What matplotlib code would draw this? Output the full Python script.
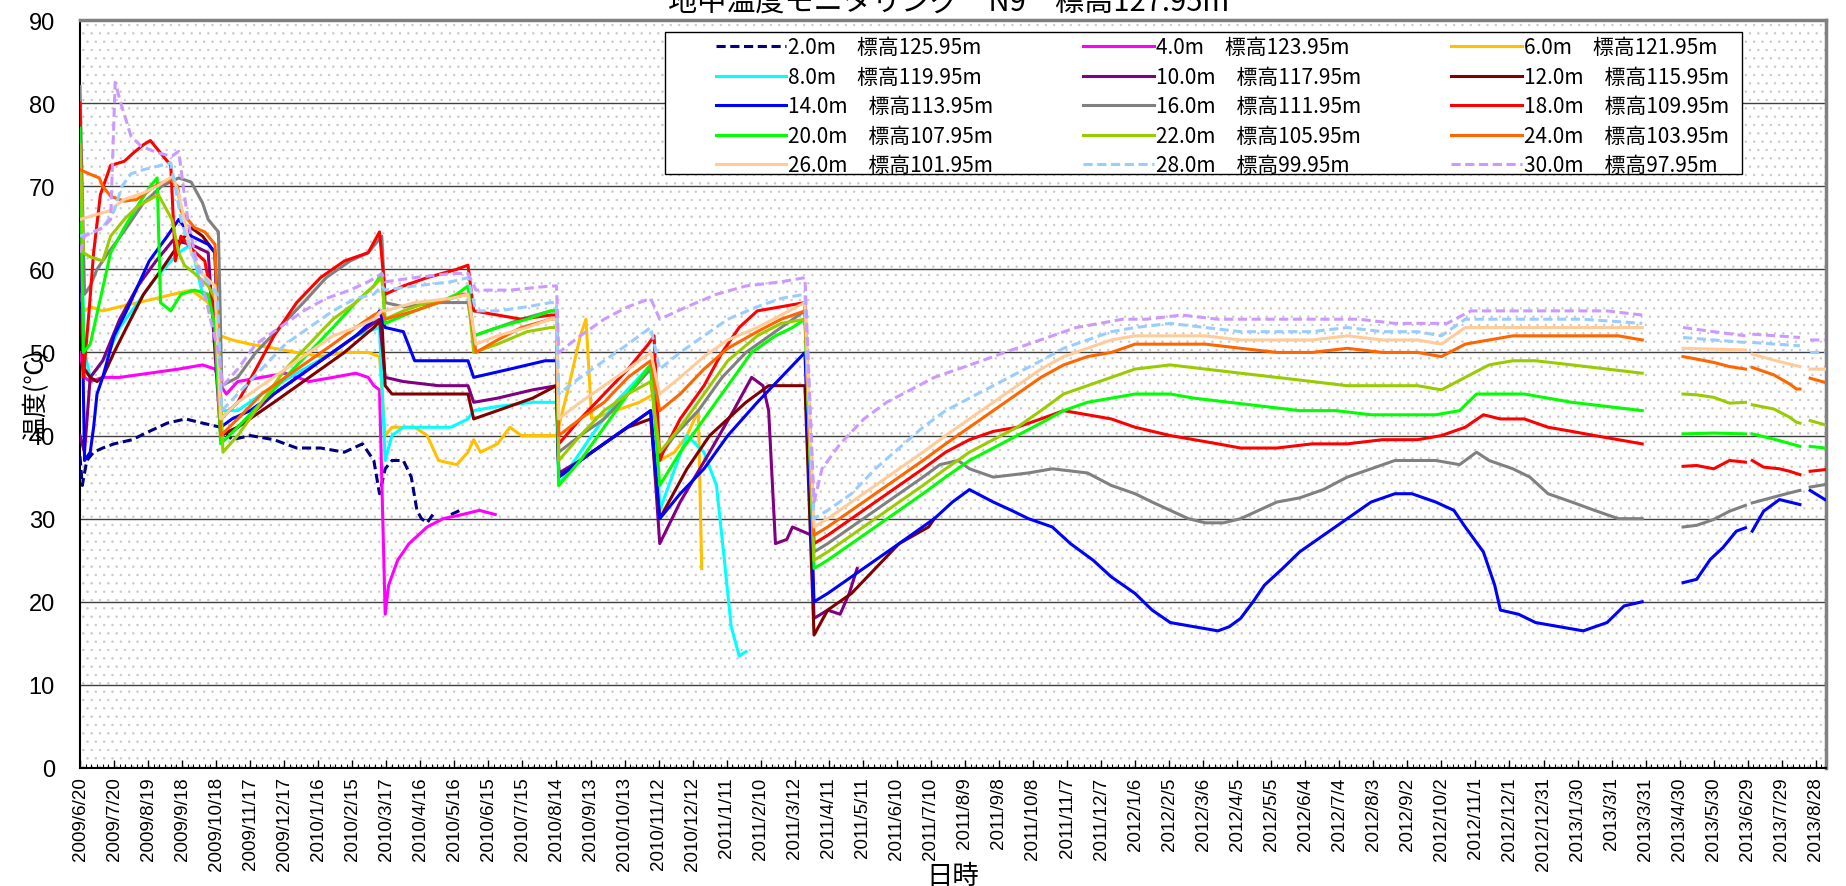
import numpy as np
import pandas as pd
import matplotlib
matplotlib.use('Agg')
import matplotlib.pyplot as plt
import matplotlib.dates as mdates
from matplotlib.patches import Rectangle
from matplotlib.ticker import FixedLocator, FuncFormatter

plt.rcParams['font.family'] = ['Liberation Sans', 'Noto Sans CJK JP', 'DejaVu Sans']
plt.rcParams['hatch.linewidth'] = 0.5

nan = np.nan
start = pd.Timestamp('2009-06-20')

# 経過日数 (2009/6/20 = 0) と温度 [℃]
d_2 = [0, 2, 6, 12, 20, 30, 46, 61, 77, 93, 108, 124, 134, 150, 171, 191, 212, 233, 249, 259, 264, 269, 275, 285, 292, 297, 301, 306, 311, 318, 327, 335]
v_2 = [37.5, 34, 37, 38, 38.5, 39, 39.5, 40.5, 41.5, 42, 41.5, 41, 39.5, 40, 39.5, 38.5, 38.5, 38, 39, 37, 33, 36, 37, 37, 35, 31, 30, 29.5, 30.5, nan, 30.5, 31]

d_4 = [0, 4, 9, 20, 35, 61, 87, 108, 119, 124, 129, 139, 160, 181, 202, 223, 243, 254, 259, 264, 269, 272, 280, 290, 306, 320, 337, 352, 366]
v_4 = [50, 47, 46.5, 47, 47, 47.5, 48, 48.5, 48, 46, 45, 46.5, 47, 47.5, 46.5, 47, 47.5, 47, 46, 45.5, 18.5, 22, 25, 27, 29, 30, 30.5, 31, 30.5]

d_6 = [0, 4, 9, 20, 35, 51, 67, 82, 98, 113, 124, 134, 150, 171, 191, 212, 233, 254, 264, 269, 275, 295, 306, 316, 332, 342, 347, 353, 368, 379, 389, 410, 420, 431, 441, 446, 451, 472, 493, 506, 511, 524, 535, 545, 548]
v_6 = [57, 55, 55.5, 55, 55.5, 56, 56.5, 57, 57.5, 56, 52, 51.5, 51, 50.5, 50, 49.5, 50, 50, 49.5, 40, 41, 41, 40, 37, 36.5, 38, 39.5, 38, 39, 41, 40, 40, 40, 46, 52, 54, 42, 43, 44, 45, 37, 38, 40, 43, 24]

d_8 = [0, 4, 9, 15, 25, 35, 51, 67, 87, 98, 108, 119, 124, 139, 160, 191, 223, 243, 264, 269, 275, 285, 306, 327, 342, 347, 368, 399, 420, 422, 431, 451, 472, 493, 506, 511, 535, 550, 561, 568, 574, 581, 587]
v_8 = [70, 50, 47, 48, 50, 53, 56, 59, 62, 63, 57, 56, 43, 43, 45, 47.5, 50, 52, 53, 37, 40, 41, 41, 41, 42, 43, 43.5, 44, 44, 34, 36, 40, 44, 47, 49, 31, 40, 38, 34, 25, 17, 13.5, 14]

d_10 = [0, 4, 9, 20, 35, 51, 67, 82, 98, 113, 124, 139, 171, 202, 233, 264, 269, 285, 316, 342, 347, 368, 399, 420, 422, 441, 472, 503, 511, 529, 555, 576, 592, 602, 607, 613, 623, 628, 645, 647, 659, 670, 678, 685]
v_10 = [40, 38, 47, 49, 54, 58, 61, 63.5, 63, 62, 40, 41, 45, 48, 51, 54, 47, 46.5, 46, 46, 44, 44.5, 45.5, 46, 35.5, 37, 40, 43, 27, 32, 38, 43, 47, 46, 43, 27, 27.5, 29, 28, 18, 19, 18.5, 21, 24]

d_12 = [0, 4, 9, 15, 20, 30, 41, 56, 72, 87, 98, 108, 119, 124, 139, 171, 202, 233, 259, 266, 269, 275, 306, 342, 347, 368, 399, 420, 422, 451, 483, 503, 511, 535, 555, 587, 607, 639, 647, 659, 680, 701, 722, 748, 753]
v_12 = [55, 48, 47, 46.5, 47, 50, 53, 57, 60, 63, 65, 64, 62, 40, 41, 44, 47, 50, 53, 54, 46, 45, 45, 45, 42, 43, 44.5, 46, 35, 38, 41, 42, 30, 36, 40, 44, 46, 46, 16, 19, 21, 24, 27, 29, 30]

d_14 = [0, 4, 9, 12, 15, 20, 30, 41, 51, 61, 77, 87, 98, 113, 119, 124, 134, 150, 181, 212, 243, 259, 264, 269, 285, 295, 316, 342, 347, 379, 410, 420, 422, 441, 472, 503, 511, 529, 550, 571, 597, 618, 639, 647, 659, 680, 701, 722, 753, 769, 784, 805, 821, 836, 857, 873, 893, 909, 930, 945, 961, 982, 1003, 1013, 1023, 1034, 1044, 1060, 1075, 1096, 1117, 1138, 1159, 1174, 1195, 1211, 1221, 1237, 1247, 1252, 1268, 1283, 1304, 1325, 1346, 1361, 1377, 1395, 1413, 1425, 1437, 1448, 1460, 1468, 1471, 1474, 1484, 1498, 1507, 1516, 1520, 1525, 1538]
v_14 = [70, 37, 38, 41, 45, 47, 52, 55, 58, 61, 64, 66, 64, 63, 62, 41, 42, 43, 46, 49, 52, 54, 55, 53, 52.5, 49, 49, 49, 47, 48, 49, 49, 35, 37, 40, 43, 30, 33, 36, 40, 44, 47, 50, 20, 21, 23, 25, 27, 30, 32, 33.5, 32, 31, 30, 29, 27, 25, 23, 21, 19, 17.5, 17, 16.5, 17, 18, 20, 22, 24, 26, 28, 30, 32, 33, 33, 32, 31, 29, 26, 22, 19, 18.5, 17.5, 17, 16.5, 17.5, 19.5, 20, nan, 22.3, 22.7, 25.1, 26.5, 28.5, 28.9, nan, 28.5, 30.9, 32.3, 32, 31.7, nan, 33.4, 32.3]

d_16 = [0, 4, 9, 15, 25, 41, 56, 72, 87, 98, 108, 113, 119, 122, 125, 139, 155, 176, 197, 217, 238, 254, 266, 269, 285, 316, 342, 347, 368, 389, 415, 420, 422, 441, 462, 483, 503, 511, 524, 545, 566, 587, 618, 639, 647, 659, 680, 701, 722, 743, 758, 774, 784, 805, 836, 857, 888, 909, 930, 945, 961, 977, 992, 1008, 1023, 1039, 1055, 1075, 1096, 1117, 1138, 1159, 1179, 1195, 1216, 1231, 1242, 1263, 1278, 1294, 1315, 1335, 1356, 1377, 1395, 1413, 1425, 1440, 1454, 1468, 1471, 1474, 1493, 1507, 1516, 1520, 1525, 1538]
v_16 = [82, 57, 58, 60, 62, 65, 68, 70, 71, 70.5, 68, 66, 65, 64.5, 46, 47, 50, 53, 56, 59, 61, 62, 64, 56, 55.5, 56, 56, 52, 53, 54, 55, 55, 38, 40, 42, 45, 48, 37.5, 40, 43, 47, 50, 53, 55, 26, 27, 29, 31, 33, 35, 36.5, 37, 36, 35, 35.5, 36, 35.5, 34, 33, 32, 31, 30, 29.5, 29.5, 30, 31, 32, 32.5, 33.5, 35, 36, 37, 37, 37, 36.5, 38, 37, 36, 35, 33, 32, 31, 30, 30, nan, 29, 29.2, 29.9, 30.9, 31.6, nan, 31.9, 32.6, 33.1, 33.4, nan, 33.8, 34.1]

d_18 = [0, 3, 8, 12, 18, 27, 39, 47, 56, 62, 68, 74, 80, 84, 89, 98, 110, 117, 124, 139, 155, 171, 191, 212, 233, 254, 264, 269, 285, 306, 332, 342, 347, 368, 389, 415, 420, 422, 441, 462, 483, 501, 506, 511, 514, 529, 550, 566, 581, 597, 618, 639, 647, 659, 680, 701, 722, 743, 763, 784, 805, 826, 847, 867, 888, 909, 930, 961, 982, 1003, 1023, 1055, 1086, 1117, 1148, 1179, 1200, 1221, 1237, 1252, 1273, 1294, 1315, 1335, 1356, 1377, 1395, 1413, 1425, 1440, 1454, 1468, 1471, 1474, 1484, 1498, 1507, 1516, 1520, 1525, 1538]
v_18 = [80, 47, 55, 62, 69, 72.5, 73, 74, 75, 75.5, 74.5, 73.5, 72.5, 61, 64, 62.5, 61, 56, 42, 44, 48, 52, 56, 59, 61, 62, 64.5, 57, 58, 59, 60, 60.5, 55, 54.5, 54, 54.5, 54.5, 39, 42, 45, 48, 51, 52, 37, 38, 42, 46, 50, 53, 55, 55.5, 56, 27, 28, 30, 32, 34, 36, 38, 39.5, 40.5, 41, 42, 43, 42.5, 42, 41, 40, 39.5, 39, 38.5, 38.5, 39, 39, 39.5, 39.5, 40, 41, 42.5, 42, 42, 41, 40.5, 40, 39.5, 39, nan, 36.3, 36.4, 36, 37, 36.8, nan, 37, 36.2, 36, 35.7, 35.3, nan, 35.7, 35.9]

d_20 = [0, 3, 9, 18, 27, 39, 50, 62, 68, 71, 80, 89, 101, 113, 119, 124, 139, 160, 181, 202, 223, 243, 259, 266, 269, 295, 316, 332, 342, 347, 368, 394, 415, 420, 422, 441, 462, 483, 503, 511, 529, 550, 571, 592, 613, 628, 639, 647, 659, 680, 701, 722, 743, 763, 784, 805, 826, 847, 867, 888, 909, 930, 961, 982, 1013, 1044, 1075, 1107, 1138, 1169, 1195, 1216, 1231, 1252, 1273, 1294, 1315, 1346, 1377, 1395, 1413, 1440, 1468, 1471, 1474, 1495, 1516, 1520, 1525, 1538]
v_20 = [77, 50, 51, 56.5, 62, 65, 67.5, 70, 71, 56, 55, 57, 57.5, 57, 53, 39, 41, 44, 47, 50, 53, 56, 58, 59.5, 53.5, 55, 56, 57, 58, 52, 53, 54, 55, 55, 34, 37, 41, 45, 48.5, 34, 38, 42, 46, 50, 52, 53, 54, 24, 25, 27, 29, 31, 33, 35, 37, 38.5, 40, 41.5, 43, 44, 44.5, 45, 45, 44.5, 44, 43.5, 43, 43, 42.5, 42.5, 42.5, 43, 45, 45, 45, 44.5, 44, 43.5, 43, nan, 40.2, 40.3, 40.2, nan, 40.2, 39.5, 38.7, nan, 38.7, 38.5]

d_22 = [0, 3, 9, 20, 27, 39, 50, 69, 81, 87, 92, 101, 113, 121, 126, 139, 160, 181, 202, 223, 243, 259, 266, 269, 285, 306, 327, 342, 347, 368, 394, 415, 420, 422, 441, 462, 483, 503, 511, 529, 550, 571, 597, 618, 639, 647, 659, 680, 701, 722, 743, 763, 784, 805, 826, 847, 867, 888, 909, 930, 961, 992, 1023, 1055, 1086, 1117, 1148, 1179, 1200, 1221, 1242, 1263, 1283, 1315, 1346, 1377, 1395, 1413, 1425, 1440, 1454, 1468, 1471, 1474, 1493, 1507, 1513, 1516, 1520, 1525, 1538]
v_22 = [75, 62, 61.5, 61, 64, 66, 67.5, 69, 66, 62, 60.5, 59.5, 58, 56, 38, 40, 44, 48, 51, 54, 56, 58, 59, 54, 55, 56, 56.5, 57, 50, 51, 52.5, 53, 53, 37, 40, 43, 45, 46.5, 38, 41, 45, 49, 52, 53.5, 54, 25, 26, 28, 30, 32, 34, 36, 38, 39.5, 41, 43, 45, 46, 47, 48, 48.5, 48, 47.5, 47, 46.5, 46, 46, 46, 45.5, 47, 48.5, 49, 49, 48.5, 48, 47.5, nan, 45, 44.9, 44.6, 43.9, 44, nan, 43.7, 43.2, 42.2, 41.6, 41.5, nan, 41.8, 41.3]

d_24 = [0, 8, 17, 20, 27, 39, 50, 62, 68, 80, 86, 89, 95, 101, 110, 119, 124, 139, 160, 181, 202, 223, 243, 259, 266, 269, 295, 316, 337, 342, 349, 368, 389, 415, 420, 422, 441, 462, 483, 503, 511, 529, 550, 571, 597, 618, 639, 647, 659, 680, 701, 722, 743, 763, 784, 805, 826, 847, 867, 888, 909, 930, 961, 992, 1023, 1055, 1086, 1117, 1148, 1179, 1200, 1221, 1242, 1263, 1294, 1325, 1356, 1377, 1395, 1413, 1425, 1440, 1454, 1468, 1471, 1474, 1493, 1507, 1513, 1516, 1520, 1525, 1538]
v_24 = [72, 71.5, 71, 70, 68.8, 68.2, 68.4, 69.6, 70.2, 70.8, 70, 67, 66, 65, 64.5, 63, 40, 42, 45, 47, 49, 51, 53, 54.5, 55, 54, 55, 56, 57, 57, 50, 51.5, 53, 54, 54, 40, 42, 44, 47, 49, 43, 45, 48, 50.5, 52.5, 54, 55, 28, 29, 31, 33, 35, 37, 39, 41, 43, 45, 47, 48.5, 49.5, 50, 51, 51, 51, 50.5, 50, 50, 50.5, 50, 50, 49.5, 51, 51.5, 52, 52, 52, 52, 51.5, nan, 49.5, 49.2, 48.8, 48.3, 48, nan, 48.2, 47.3, 46.2, 45.6, 45.6, nan, 46.9, 46.4]

d_26 = [0, 12, 25, 39, 56, 68, 77, 82, 87, 92, 98, 107, 119, 124, 139, 160, 181, 202, 223, 243, 259, 266, 269, 295, 327, 342, 349, 368, 394, 415, 420, 422, 441, 462, 483, 503, 511, 529, 550, 571, 597, 618, 639, 647, 659, 680, 701, 722, 743, 763, 784, 805, 826, 847, 867, 888, 909, 930, 961, 992, 1023, 1055, 1086, 1117, 1148, 1179, 1200, 1221, 1242, 1283, 1325, 1377, 1395, 1413, 1440, 1468, 1471, 1474, 1495, 1516, 1520, 1525, 1538]
v_26 = [66, 66.5, 67, 68.4, 69.2, 70, 70.8, 71.2, 69, 66, 62, 59.5, 58, 42, 44, 46, 48, 50, 52, 53, 54, 55, 55, 56, 56.5, 57, 51, 52, 53, 54, 54, 42, 44, 46, 48, 50, 45, 47, 49.5, 51.5, 53, 54.5, 56, 29, 30, 32, 34, 36, 38, 40, 42, 44, 46, 48, 49.5, 50.5, 51.5, 52, 52, 52, 51.5, 51.5, 51.5, 52, 51.5, 51.5, 51, 53, 53, 53, 53, 53, nan, 50.5, 50.4, 50.3, nan, 49.8, 49, 48.3, nan, 48, 48]

d_28 = [0, 12, 20, 30, 37, 45, 56, 68, 80, 84, 89, 98, 110, 121, 125, 139, 160, 181, 202, 223, 243, 259, 266, 269, 295, 327, 342, 349, 368, 394, 415, 420, 422, 441, 462, 483, 503, 511, 529, 550, 571, 597, 618, 639, 647, 659, 680, 701, 722, 743, 763, 784, 805, 826, 847, 867, 888, 909, 930, 961, 992, 1023, 1055, 1086, 1117, 1148, 1179, 1200, 1221, 1252, 1283, 1325, 1377, 1395, 1413, 1440, 1468, 1471, 1474, 1495, 1516, 1520, 1525, 1538]
v_28 = [64, 64.5, 65, 67, 70, 71.5, 72, 72.4, 72.8, 70, 66, 62, 59, 57, 43, 45, 48, 51, 53, 55, 56.5, 57, 58, 57.5, 58, 58.5, 59, 55, 55, 55.5, 56, 56, 45, 47, 49, 51, 53, 48, 50, 52, 54, 55.5, 56.5, 57, 30, 31, 33, 36, 38.5, 41, 43, 44.5, 46, 47.5, 49, 50.5, 51.5, 52.5, 53, 53.5, 53, 52.5, 52.5, 52.5, 53, 52.5, 52.5, 52, 54, 54, 54, 54, 53.5, nan, 51.8, 51.5, 51.2, nan, 51.2, 51, 50.8, nan, 50, 50]

d_30 = [0, 4, 12, 20, 27, 31, 36, 45, 54, 69, 81, 87, 91, 95, 101, 107, 115, 122, 126, 139, 155, 176, 197, 217, 238, 254, 266, 269, 295, 327, 342, 349, 379, 415, 420, 422, 441, 462, 483, 503, 511, 535, 561, 587, 618, 639, 647, 654, 670, 691, 711, 732, 753, 774, 795, 815, 836, 857, 878, 899, 919, 940, 971, 1003, 1034, 1065, 1096, 1127, 1159, 1190, 1205, 1226, 1263, 1304, 1346, 1377, 1395, 1413, 1440, 1468, 1471, 1474, 1495, 1516, 1520, 1525, 1538]
v_30 = [62, 64, 64.5, 65, 66, 82.5, 80, 76, 74.8, 74, 73.6, 74.2, 70, 66, 62, 58.8, 54, 50, 46, 48, 51, 53, 55, 56.5, 57.5, 58.5, 59.5, 58.5, 59, 59.5, 59.5, 57.5, 57.5, 58, 58, 50, 52, 54, 55.5, 56.5, 54, 55.5, 57, 58, 58.5, 59, 32, 36, 39, 42, 44, 45.5, 47, 48, 49, 50, 51, 52, 53, 53.5, 54, 54, 54.5, 54, 54, 54, 54, 54, 53.5, 53.5, 53.5, 55, 55, 55, 55, 54.5, nan, 53, 52.5, 52, nan, 52.2, 52, 51.8, nan, 51.5, 51.5]

days = [d_2, d_4, d_6, d_8, d_10, d_12, d_14, d_16, d_18, d_20, d_22, d_24, d_26, d_28, d_30]
temps = [v_2, v_4, v_6, v_8, v_10, v_12, v_14, v_16, v_18, v_20, v_22, v_24, v_26, v_28, v_30]
labels = ['2.0m\u3000標高125.95m', '4.0m\u3000標高123.95m', '6.0m\u3000標高121.95m',
          '8.0m\u3000標高119.95m', '10.0m\u3000標高117.95m', '12.0m\u3000標高115.95m',
          '14.0m\u3000標高113.95m', '16.0m\u3000標高111.95m', '18.0m\u3000標高109.95m',
          '20.0m\u3000標高107.95m', '22.0m\u3000標高105.95m', '24.0m\u3000標高103.95m',
          '26.0m\u3000標高101.95m', '28.0m\u3000標高99.95m', '30.0m\u3000標高97.95m']
colors = ['#000080', '#FF00FF', '#FFC000', '#00FFFF', '#800080', '#800000', '#0000FF', '#808080',
          '#FF0000', '#00FF00', '#99CC00', '#FF6600', '#FFCC99', '#99CCFF', '#CC99FF']
styles = [(0, (3, 1.5)), '-', '-', '-', '-', '-', '-', '-', '-', '-', '-', '-', '-', (0, (3, 1.5)), (0, (3, 1.5))]

tick_dates = pd.date_range('2009-06-20', '2013-08-28', freq='30D')

fig = plt.figure(figsize=(18.46, 8.87), dpi=100)
ax = fig.add_axes([80/1846, 118/887, 1746/1846, 748/887])

bg = Rectangle((0, 0), 1, 1, transform=ax.transAxes, facecolor='white', edgecolor='#c8c8c8',
               hatch='..', lw=0, zorder=0)
ax.add_patch(bg)

handles = []
for d, v, c, ls, lab in zip(days, temps, colors, styles, labels):
    t = start + pd.to_timedelta(d, unit='D')
    h, = ax.plot(t, v, color=c, ls=ls, lw=2.2, label=lab, zorder=3)
    handles.append(h)

ax.set_ylim(0, 90)
ax.set_yticks(range(0, 91, 10))
ax.set_xlim(start, start + pd.Timedelta(days=1539))
ax.xaxis.set_major_locator(FixedLocator(mdates.date2num(tick_dates)))
ax.xaxis.set_minor_locator(FixedLocator(mdates.date2num(pd.date_range('2009-06-20', '2013-09-06', freq='5D'))))
ax.xaxis.set_major_formatter(FuncFormatter(lambda x, pos: '{0}/{1}/{2}'.format(
    mdates.num2date(x).year, mdates.num2date(x).month, mdates.num2date(x).day)))
ax.tick_params(axis='x', which='major', direction='in', length=6, width=1, labelsize=13.5,
               labelrotation=90, pad=6)
ax.tick_params(axis='x', which='minor', direction='in', length=3, width=0.8)
ax.tick_params(axis='y', length=0, labelsize=17, pad=18)

ax.grid(axis='y', color='#404040', lw=1)
ax.set_axisbelow(True)
for s in ['left', 'bottom']:
    ax.spines[s].set_color('black')
    ax.spines[s].set_linewidth(1.5)
for s in ['top', 'right']:
    ax.spines[s].set_color('#808080')
    ax.spines[s].set_linewidth(2.5)

ax.set_xlabel('日時', fontsize=19, family=['Noto Sans CJK JP'], va='top')
ax.xaxis.set_label_coords(0.5, -0.1257)
ax.set_ylabel('温度(℃)', fontsize=18, family=['Noto Sans CJK JP'])
ax.yaxis.set_label_coords(-0.0177, 0.50)

fig.text(0.514, 1 - 12/887, '地中温度モニタリング\u3000N9\u3000標高127.95m', ha='center', va='baseline',
         fontsize=21, family=['Noto Sans CJK JP'])

# 凡例の枠
frame = Rectangle((0.335, 0.794), 0.617, 0.19, transform=ax.transAxes, facecolor='white',
                  edgecolor='black', lw=1, zorder=5)
ax.add_patch(frame)

# 凡例は行方向に並べる
order = [0, 3, 6, 9, 12, 1, 4, 7, 10, 13, 2, 5, 8, 11, 14]
leg = ax.legend([handles[i] for i in order], [labels[i] for i in order], ncol=3,
                loc='upper left', bbox_to_anchor=(0.364, 0.978), frameon=False,
                borderaxespad=0, borderpad=0,
                prop={'family': 'Noto Sans CJK JP', 'size': 15}, handlelength=3.4,
                handletextpad=0.1, labelspacing=0.36, columnspacing=4.3)
leg.set_zorder(6)

fig.savefig('out.png', dpi=100)
